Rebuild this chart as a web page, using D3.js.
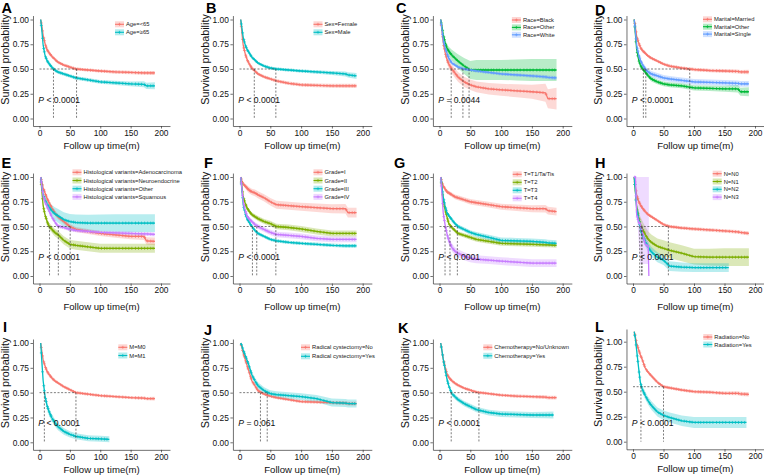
<!DOCTYPE html>
<html><head><meta charset="utf-8">
<script src="https://cdn.jsdelivr.net/npm/d3@7"></script>
<style>
body{margin:0;background:#fff}
text{font-family:"Liberation Sans",Arial,sans-serif}
</style>
</head><body>
<svg id="c" width="764" height="475"></svg>
<script>
// ---------------- DATA ----------------
const times = [2,4,6,9,12,15,20,25,30,40,50,60,80,100,125,150,172,176,190];
const ciTimes = [2,12,30,60,100,150,190];
const censorTimes = [3,5,7,8,10,11,13,14,16,18,19,22,24,27,29,32,35,38,42,45,48,52,56,59,63,67,71,75,79,84,88,93,97,102,107,111,116,121,126,131,137,142,147,152,158,163,168,173,178,183,187];
const xTicks = [0,50,100,150,200];
const yTicks = [0,0.25,0.5,0.75,1];
const panelLetters = ["A","B","C","D","E","F","G","H","I","J","K","L"];
const pSign  = ["<","<","=","<","<","<","<","<","<","=","<","<"];
const pValue = ["0.0001","0.0001","0.0044","0.0001","0.0001","0.0001","0.0001","0.0001","0.0001","0.061","0.0001","0.0001"];
const xTitle = "Follow up time(m)";
const yTitle = "Survival probability";
const pal2 = ["#F8766D","#00BFC4"];
const pal3 = ["#F8766D","#00BA38","#619CFF"];
const pal4 = ["#F8766D","#7CAE00","#00BFC4","#C77CFF"];

const groupNames = [
  ["Age=<65","Age=≥65"],
  ["Sex=Female","Sex=Male"],
  ["Race=Black","Race=Other","Race=White"],
  ["Marital=Married","Marital=Other","Marital=Single"],
  ["Histological variants=Adenocarcinoma","Histological variants=Neuroendocrine","Histological variants=Other","Histological variants=Squamous"],
  ["Grade=I","Grade=II","Grade=III","Grade=IV"],
  ["T=T1/Ta/Tis","T=T2","T=T3","T=T4"],
  ["N=N0","N=N1","N=N2","N=N3"],
  ["M=M0","M=M1"],
  ["Radical cystectomy=No","Radical cystectomy=Yes"],
  ["Chemotherapy=No/Unknown","Chemotherapy=Yes"],
  ["Radiation=No","Radiation=Yes"]
];

// survival probability at each of `times` (null = no follow-up)
const survival = [
  [[1.0,0.93,0.84,0.76,0.70,0.67,0.63,0.60,0.57,0.54,0.52,0.50,0.49,0.48,0.47,0.465,0.46,0.46,0.46],
   [1.0,0.88,0.74,0.64,0.59,0.56,0.52,0.49,0.47,0.45,0.43,0.41,0.39,0.37,0.36,0.35,0.345,0.33,0.33]],
  [[1.0,0.86,0.74,0.66,0.60,0.56,0.51,0.48,0.45,0.42,0.40,0.38,0.355,0.34,0.335,0.33,0.33,0.33,0.33],
   [1.0,0.91,0.82,0.75,0.70,0.67,0.62,0.59,0.56,0.53,0.51,0.50,0.49,0.48,0.47,0.46,0.45,0.44,0.43]],
  [[1.0,0.88,0.77,0.67,0.60,0.55,0.50,0.46,0.42,0.37,0.34,0.32,0.30,0.29,0.28,0.27,0.26,0.20,0.20],
   [1.0,0.93,0.85,0.77,0.71,0.68,0.64,0.61,0.58,0.53,0.49,0.49,0.49,0.49,0.49,0.49,0.49,0.49,0.49],
   [1.0,0.90,0.80,0.72,0.66,0.61,0.56,0.54,0.52,0.50,0.49,0.48,0.465,0.45,0.44,0.43,0.42,0.415,0.41]],
  [[1.0,0.92,0.83,0.77,0.72,0.69,0.66,0.63,0.61,0.58,0.55,0.53,0.51,0.495,0.485,0.48,0.475,0.47,0.47],
   [1.0,0.85,0.70,0.60,0.54,0.51,0.47,0.43,0.40,0.37,0.35,0.34,0.33,0.31,0.305,0.30,0.30,0.27,0.27],
   [1.0,0.87,0.74,0.65,0.59,0.55,0.50,0.47,0.45,0.43,0.41,0.40,0.385,0.37,0.365,0.36,0.355,0.35,0.35]],
  [[1.0,0.95,0.89,0.84,0.79,0.75,0.69,0.64,0.60,0.55,0.50,0.47,0.45,0.43,0.415,0.40,0.40,0.355,0.35],
   [1.0,0.85,0.71,0.62,0.56,0.51,0.475,0.44,0.42,0.36,0.32,0.31,0.295,0.28,0.28,0.28,0.28,0.28,0.28],
   [1.0,0.90,0.82,0.77,0.73,0.70,0.66,0.63,0.61,0.57,0.55,0.54,0.535,0.535,0.535,0.535,0.535,0.535,0.535],
   [1.0,0.90,0.81,0.75,0.71,0.67,0.60,0.55,0.505,0.49,0.47,0.46,0.45,0.44,0.435,0.43,0.425,0.425,0.42]],
  [[1.0,0.96,0.93,0.91,0.89,0.87,0.85,0.84,0.82,0.79,0.75,0.72,0.71,0.70,0.69,0.68,0.68,0.64,0.64],
   [1.0,0.90,0.80,0.74,0.69,0.66,0.62,0.60,0.58,0.55,0.53,0.50,0.49,0.475,0.45,0.43,0.43,0.43,0.43],
   [1.0,0.86,0.72,0.64,0.58,0.55,0.50,0.46,0.43,0.40,0.37,0.355,0.34,0.33,0.32,0.31,0.305,0.305,0.305],
   [1.0,0.88,0.75,0.67,0.61,0.58,0.55,0.52,0.50,0.47,0.44,0.42,0.41,0.40,0.38,0.37,0.37,0.37,0.37]],
  [[1.0,0.95,0.91,0.88,0.85,0.84,0.82,0.80,0.79,0.77,0.75,0.74,0.72,0.70,0.69,0.68,0.68,0.66,0.65],
   [1.0,0.88,0.76,0.67,0.60,0.53,0.49,0.46,0.43,0.41,0.39,0.37,0.35,0.33,0.325,0.32,0.315,0.315,0.31],
   [1.0,0.90,0.80,0.71,0.64,0.61,0.57,0.53,0.50,0.47,0.44,0.42,0.39,0.36,0.355,0.35,0.34,0.335,0.33],
   [1.0,0.82,0.64,0.52,0.43,0.36,0.29,0.25,0.23,0.20,0.18,0.17,0.16,0.15,0.14,0.13,0.13,0.13,0.13]],
  [[1.0,0.90,0.82,0.76,0.72,0.69,0.65,0.62,0.60,0.56,0.52,0.50,0.485,0.475,0.465,0.455,0.445,0.44,0.43],
   [1.0,0.85,0.70,0.60,0.52,0.48,0.42,0.37,0.34,0.30,0.28,0.26,0.23,0.195,0.19,0.19,0.19,0.19,0.19],
   [1.0,0.85,0.68,0.58,0.49,0.42,0.35,0.29,0.245,0.19,0.16,0.10,0.09,0.085,0.085,0.085,null,null,null],
   [1.0,1.0,0.62,0.55,0.52,0.45,0.32,0.30,null,null,null,null,null,null,null,null,null,null,null]],
  [[1.0,0.91,0.83,0.77,0.72,0.69,0.65,0.62,0.60,0.56,0.53,0.50,0.485,0.47,0.46,0.45,0.445,0.44,0.44],
   [1.0,0.80,0.62,0.47,0.38,0.32,0.25,0.20,0.16,0.11,0.08,0.06,0.04,0.035,null,null,null,null,null]],
  [[1.0,0.95,0.90,0.84,0.78,0.72,0.62,0.57,0.52,0.485,0.465,0.45,0.43,0.41,0.405,0.40,0.395,0.39,0.39],
   [1.0,0.97,0.93,0.88,0.83,0.78,0.68,0.62,0.57,0.52,0.49,0.48,0.47,0.46,0.44,0.40,0.395,0.39,0.39]],
  [[1.0,0.92,0.84,0.76,0.69,0.655,0.62,0.595,0.575,0.545,0.525,0.505,0.49,0.475,0.465,0.46,0.455,0.45,0.45],
   [1.0,0.92,0.84,0.74,0.64,0.57,0.49,0.46,0.43,0.39,0.36,0.33,0.30,0.285,0.28,0.275,0.275,null,null]],
  [[1.0,0.95,0.89,0.84,0.79,0.75,0.67,0.63,0.60,0.54,0.50,0.49,0.47,0.455,0.45,0.44,0.44,0.435,0.43],
   [1.0,0.93,0.83,0.68,0.54,0.48,0.42,0.37,0.33,0.27,0.24,0.22,0.19,0.175,0.175,0.175,0.175,null,null]]
];

// last follow-up [time, survival] (null survival = last value carried)
const lastFollowUp = [
  [null,null],[null,null],[null,null,null],[null,null,null],[null,null,null,null],[null,null,null,null],
  [null,null,null,null],
  [null,null,[157,null],[26,0]],
  [null,[115,0.03]],
  [null,null],
  [null,[185,null]],
  [null,[186,null]]
];

// 95% CI half widths at ciTimes (H N3 given as [lower],[upper])
const ciHalf = [
  [[0,0.015,0.015,0.015,0.016,0.018,0.02],[0,0.015,0.017,0.018,0.02,0.024,0.035]],
  [[0,0.015,0.016,0.017,0.018,0.02,0.022],[0,0.012,0.014,0.015,0.016,0.02,0.03]],
  [[0,0.04,0.05,0.055,0.06,0.07,0.11],[0,0.04,0.07,0.1,0.1,0.11,0.11],[0,0.01,0.012,0.013,0.014,0.016,0.02]],
  [[0,0.012,0.015,0.016,0.017,0.019,0.022],[0,0.02,0.025,0.025,0.026,0.03,0.045],[0,0.02,0.03,0.03,0.03,0.03,0.03]],
  [[0,0.02,0.025,0.025,0.025,0.03,0.04],[0,0.03,0.04,0.045,0.045,0.045,0.045],[0,0.05,0.07,0.08,0.085,0.09,0.09],[0,0.015,0.017,0.018,0.018,0.02,0.02]],
  [[0,0.03,0.035,0.04,0.04,0.045,0.05],[0,0.02,0.025,0.028,0.03,0.03,0.03],[0,0.012,0.015,0.016,0.017,0.018,0.02],[0,0.02,0.025,0.028,0.03,0.03,0.03]],
  [[0,0.02,0.025,0.028,0.03,0.035,0.04],[0,0.015,0.02,0.025,0.025,0.025,0.025],[0,0.015,0.02,0.025,0.03,0.03,0.03],[0,0.04,0.04,0.04,0.04,0.04,0.04]],
  [[0,0.012,0.015,0.016,0.017,0.018,0.02],[0,0.08,0.08,0.08,0.08,0.09,0.09],[0,0.05,0.05,0.05,0.045,0.045,0.045],
   {lo:[1,0.12,0.12,0.12,0.12,0.12,0.12],hi:[1,1,1,1,1,1,1]}],
  [[0,0.01,0.012,0.013,0.014,0.015,0.018],[0,0.04,0.035,0.03,0.03,0.03,0.03]],
  [[0,0.012,0.013,0.014,0.015,0.016,0.02],[0,0.025,0.035,0.035,0.035,0.04,0.04]],
  [[0,0.012,0.013,0.014,0.015,0.016,0.02],[0,0.02,0.025,0.028,0.03,0.03,0.035]],
  [[0,0.012,0.013,0.014,0.015,0.016,0.02],[0,0.03,0.04,0.045,0.05,0.05,0.05]]
];

// median survival times (null = not reached)
const medians = [
  [61,23],[24,59],[19,48,38],[93,17,21],[50.5,16.5,null,31],[null,59,21,28],
  [null,17,29,9],[58,15,11,14],[60,8],[34,45],[64,19],[50,13]
];

// ---------------- LAYOUT ----------------
const colX0 = [39.5,239.5,439.5,633];
const colW  = [121.5,123.2,123.2,122];
const rowY1 = [19.5,177,343];
const rowY0 = [118.5,276,442.3];
const xTitleDy = [27.5,31,27];
const letterPos = [[1.5,13],[206,13.3],[396,13.3],[595,15],[1.5,167.7],[204,167.7],[394,168.3],[595,168.3],[3,332.3],[204,335],[398,333.3],[595,332.3]];
const legendPos = [[75.5,4.8,8],[74,4.8,8],[72.4,0.5,7.4],[70,-0.2,7.4],[33,-4.7,8.2],[74,-4.7,8.2],[73.2,-2.7,8],[79.7,-3.3,7.8],[78.8,4.3,8.2],[61.5,4.3,9],[43.8,4.3,8.5],[70.3,-4.7,7.5]];

const svg = d3.select("#c");
const xMin=-10.7, xMax=214.8, yMin=-0.076;

for (let i=0;i<12;i++){
  const col=i%4,row=Math.floor(i/4);
  const isL = i===11;
  const x0=colX0[col], k=colW[col]/200;
  const x = d3.scaleLinear().domain([xMin,xMax]).range([x0+xMin*k, x0+xMax*k]);
  const py0 = isL?441.7:rowY0[row], py1 = isL?341.7:rowY1[row];
  const yMax = isL?1.127:1.04;
  const yAx = d3.scaleLinear().domain([yMin,yMax]).range([py0-yMin*(py0-py1), py0-yMax*(py0-py1)]);
  const stretch = isL?1.1:1;
  const y = v => yAx(v*stretch);
  const n = groupNames[i].length;
  const pal = n===2?pal2:(n===3?pal3:pal4);
  const g = svg.append("g");

  // axes
  const ax = g.append("g").attr("transform",`translate(0,${yAx(yMin)})`)
    .call(d3.axisBottom(x).tickValues(xTicks).tickSize(2.5).tickSizeOuter(0).tickPadding(1.5));
  const ay = g.append("g").attr("transform",`translate(${x(xMin)},0)`)
    .call(d3.axisLeft(yAx).tickValues(yTicks).tickFormat(d3.format(".2f")).tickSize(2.5).tickSizeOuter(0).tickPadding(1.5));
  [ax,ay].forEach(a=>{
    a.selectAll("path,line").attr("stroke","#333").attr("stroke-width",0.7);
    a.selectAll("text").attr("font-size",8.4).attr("fill","#111").attr("font-family","Liberation Sans, Arial, sans-serif");
  });

  // series
  const series = groupNames[i].map((name,j)=>{
    const pts=[];
    times.forEach((t,q)=>{ const v=survival[i][j][q]; if(v!=null) pts.push([t,v]); });
    const lf = lastFollowUp[i][j];
    if (lf){ pts.push([lf[0], lf[1]==null?pts[pts.length-1][1]:lf[1]]); }
    return {name, pts, color:pal[j], ci:ciHalf[i][j], med:medians[i][j]};
  });

  // bands
  series.forEach(s=>{
    let lo, hi;
    if (Array.isArray(s.ci)){
      const w = d3.scaleLinear().domain(ciTimes).range(s.ci).clamp(true);
      lo = d=>Math.max(0,d[1]-w(d[0])); hi = d=>Math.min(1,d[1]+w(d[0]));
    } else {
      const l = d3.scaleLinear().domain(ciTimes).range(s.ci.lo).clamp(true);
      const h = d3.scaleLinear().domain(ciTimes).range(s.ci.hi).clamp(true);
      lo = d=>l(d[0]); hi = d=>h(d[0]);
    }
    const area = d3.area().x(d=>x(d[0])).y0(d=>y(lo(d))).y1(d=>y(hi(d))).curve(d3.curveLinear);
    g.append("path").attr("d",area(s.pts)).attr("fill",s.color).attr("fill-opacity",0.28).attr("stroke","none");
  });
  // lines + censor marks
  series.forEach(s=>{
    const line = d3.line().x(d=>x(d[0])).y(d=>y(d[1])).curve(d3.curveLinear);
    g.append("path").attr("d",line(s.pts)).attr("fill","none").attr("stroke",s.color).attr("stroke-width",1.3);
    const interp = d3.scaleLinear().domain(s.pts.map(d=>d[0])).range(s.pts.map(d=>d[1]));
    const tEnd = s.pts[s.pts.length-1][0];
    const marks = censorTimes.filter(t=>t<tEnd-0.5 && t>s.pts[0][0]);
    g.append("g").selectAll("path").data(marks).join("path")
      .attr("d",t=>{const cx=x(t),cy=y(interp(t));return `M${cx-1.5},${cy}H${cx+1.5}M${cx},${cy-1.5}V${cy+1.5}`;})
      .attr("stroke",s.color).attr("stroke-width",0.7).attr("fill","none");
  });

  // median lines
  const meds = series.map(s=>s.med).filter(m=>m!=null);
  const dash = {stroke:"#444","stroke-width":0.7,"stroke-dasharray":"2,1.6"};
  const hl = g.append("line").attr("x1",x(0)).attr("x2",x(d3.max(meds))).attr("y1",y(0.5)).attr("y2",y(0.5));
  Object.entries(dash).forEach(([a,v])=>hl.attr(a,v));
  meds.forEach(m=>{
    const vl = g.append("line").attr("x1",x(m)).attr("x2",x(m)).attr("y1",y(0.5)).attr("y2",y(0));
    Object.entries(dash).forEach(([a,v])=>vl.attr(a,v));
  });

  // p value
  const pt = g.append("text").attr("x",x(-2)).attr("y",yAx(0.19)).attr("dy","0.35em").attr("font-size",8.6).attr("fill","#111");
  pt.append("tspan").attr("font-style","italic").text("P");
  pt.append("tspan").text(` ${pSign[i]} ${pValue[i]}`);

  // legend
  const [lx,ly,ls] = legendPos[i];
  series.forEach((s,j)=>{
    const kx = x0+lx, ky = py1+ly+j*ls;
    g.append("rect").attr("x",kx).attr("y",ky-3).attr("width",9).attr("height",6).attr("fill",s.color).attr("fill-opacity",0.3);
    g.append("line").attr("x1",kx).attr("x2",kx+9).attr("y1",ky).attr("y2",ky).attr("stroke",s.color).attr("stroke-width",1.1);
    g.append("path").attr("d",`M${kx+3},${ky}H${kx+6}M${kx+4.5},${ky-1.5}V${ky+1.5}`).attr("stroke",s.color).attr("stroke-width",0.7);
    g.append("text").attr("x",kx+11).attr("y",ky).attr("dy","0.35em").attr("font-size",5.8).attr("fill","#222").text(s.name);
  });

  // titles
  const fx = (x(xMin)+x(xMax))/2;
  g.append("text").attr("x",fx).attr("y",py0+xTitleDy[row]).attr("dy","0.35em").attr("text-anchor","middle")
    .attr("font-size",9.6).attr("fill","#111").text(xTitle);
  g.append("text").attr("transform",`translate(${x0-34.5},${py1+40}) rotate(-90)`).attr("dy","0.35em")
    .attr("text-anchor","middle").attr("font-size",10.8).attr("fill","#111").text(yTitle);
  g.append("text").attr("x",letterPos[i][0]).attr("y",letterPos[i][1]).attr("font-size",14.5).attr("font-weight","bold")
    .attr("fill","#000").text(panelLetters[i]);
}
</script>
</body></html>
